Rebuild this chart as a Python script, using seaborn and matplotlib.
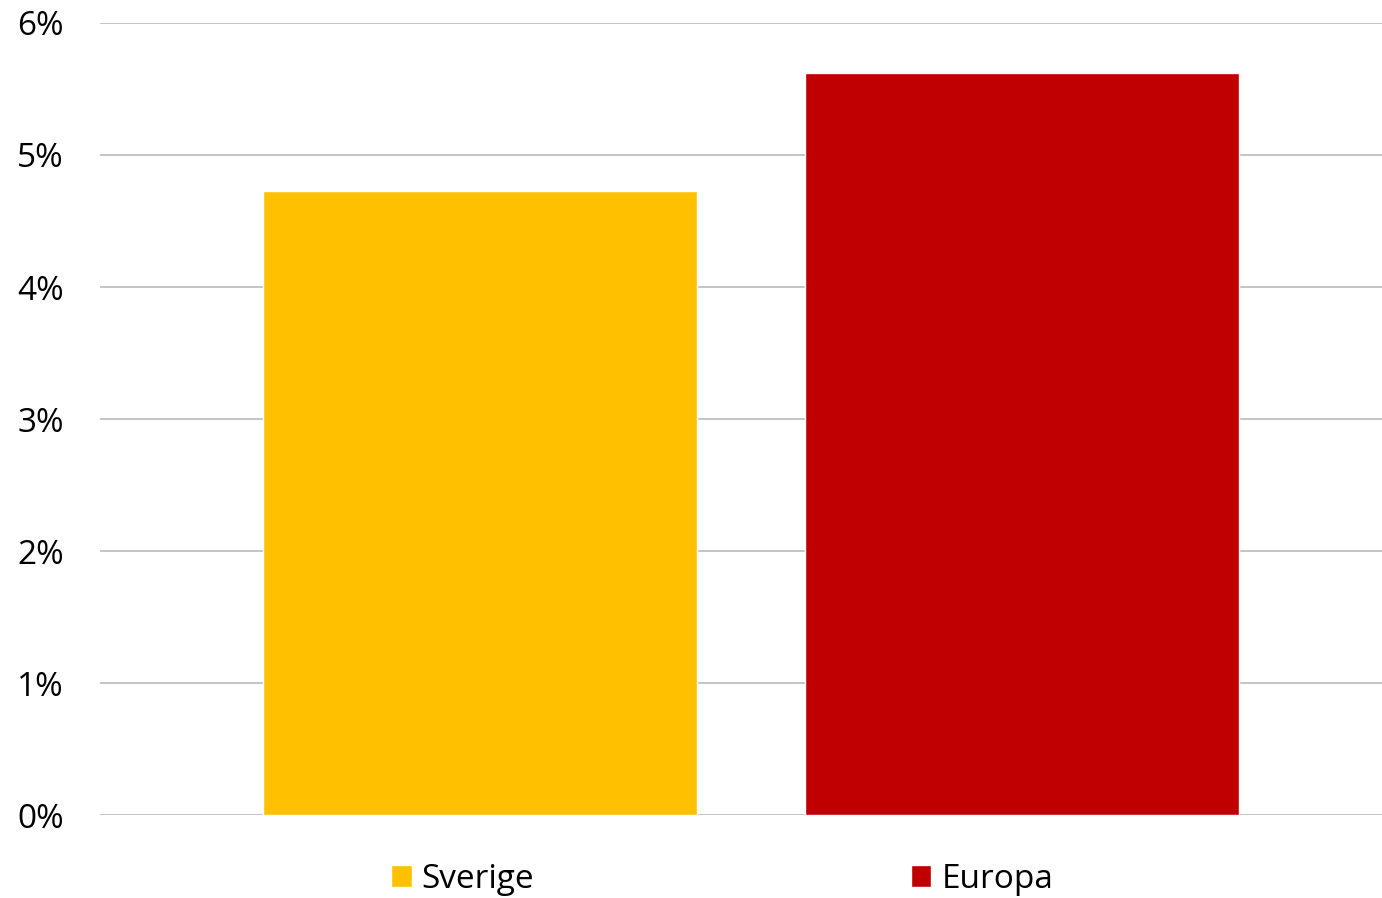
import matplotlib
matplotlib.use('Agg')
import matplotlib.pyplot as plt
import seaborn as sns
import pandas as pd
from matplotlib.patches import Patch
from matplotlib.ticker import FuncFormatter

# data
regions = ['Sverige', 'Europa']
values = [4.73, 5.62]
colors = ['#FFC000', '#C00000']

df = pd.DataFrame({'region': regions, 'value': values})

sns.set_theme(style='white')
plt.rcParams['font.family'] = ['Open Sans', 'DejaVu Sans']
plt.rcParams['text.color'] = '#000000'

fig = plt.figure(figsize=(13.82, 8.98), dpi=100)
ax = fig.add_axes([0.0724, 0.0924, 0.9276, 0.882])

sns.barplot(data=df, x='region', y='value', hue='region', palette=colors,
            width=0.8, legend=False, ax=ax, saturation=1)

ax.set_ylim(0, 6)
ax.set_xlim(-0.7, 1.664)
ax.set_yticks(range(0, 7))
ax.yaxis.set_major_formatter(FuncFormatter(lambda v, p: f'{int(v)}%'))
ax.tick_params(axis='y', labelsize=24, pad=26, length=0, colors='#000000')
ax.set_xticks([])
ax.set_xlabel('')
ax.set_ylabel('')
ax.grid(axis='y', color='#BFBFBF', linewidth=1.3)
ax.set_axisbelow(True)
for s in ax.spines.values():
    s.set_visible(False)

# legend at bottom
handles = [Patch(facecolor=c, label=r) for c, r in zip(colors, regions)]
leg = fig.legend(handles=handles, loc='center', bbox_to_anchor=(0.5225, 0.021), ncol=2,
                 frameon=False, fontsize=24, handlelength=0.62, handleheight=0.62,
                 handletextpad=0.3, columnspacing=11.3)
for t in leg.get_texts():
    t.set_color('#000000')

plt.savefig('out.png', dpi=100)
